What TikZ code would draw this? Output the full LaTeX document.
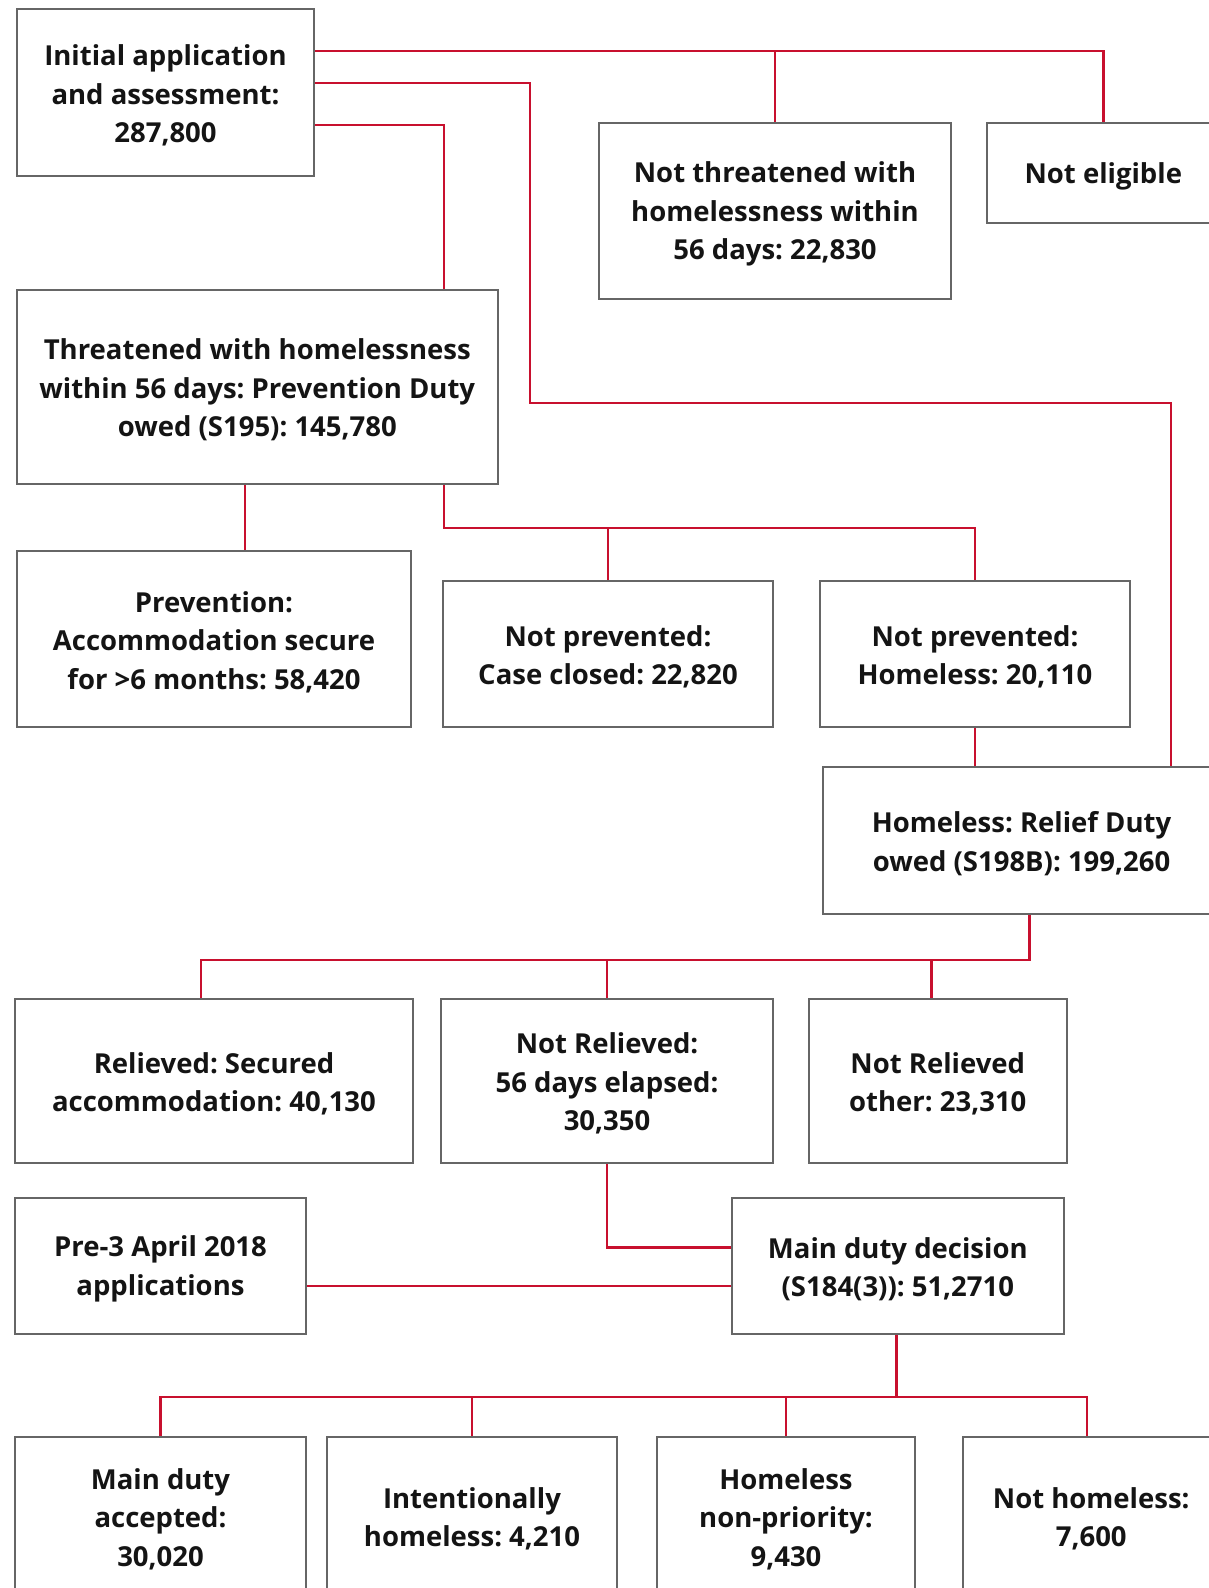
\documentclass[tikz,border=0pt]{standalone}
\usepackage{fontspec}
\setmainfont{Open Sans}
\definecolor{linkred}{HTML}{C8102E}
\definecolor{boxgray}{HTML}{666666}
\tikzset{
  box/.style={draw=boxgray, line width=2pt, fill=white, inner sep=0pt},
  lbl/.style={align=center, inner sep=0pt,
    font=\fontsize{27.5}{38.5}\selectfont\bfseries\frenchspacing, text=black!92},
  link/.style={draw=linkred, line width=2.4pt}
}
\newcommand{\boxat}[6]{%
  \node[box, minimum width={#4-#2}, minimum height={#5-#3}] (#1) at ({(#2+#4)/2},{(#3+#5)/2}) {};
  \node[lbl] (#1-text) at ([yshift=-3pt]#1.center) {#6};}
\begin{document}
\begin{tikzpicture}[x=1pt,y=-1pt]
\useasboundingbox (0,0) rectangle (1208,1588);
\boxat{init}{17}{9}{314}{176}{Initial application\\and assessment:\\287,800}
\boxat{notthr}{599}{123}{951}{299}{Not threatened with\\homelessness within\\56 days: 22,830}
\boxat{notelig}{986.6}{123}{1220}{223}{Not eligible}
\boxat{threat}{17}{290}{497.5}{484}{Threatened with homelessness\\within 56 days: Prevention Duty\\owed (S195): 145,780}
\boxat{prev}{17}{551}{411}{727}{Prevention:\\Accommodation secure\\for >6 months: 58,420}
\boxat{closed}{443}{581}{773}{727}{Not prevented:\\Case closed: 22,820}
\boxat{homeless}{820}{581}{1130}{727}{Not prevented:\\Homeless: 20,110}
\boxat{relief}{823}{767}{1220}{914}{Homeless: Relief Duty\\owed (S198B): 199,260}
\boxat{relieved}{15}{998.6}{413}{1163}{Relieved: Secured\\accommodation: 40,130}
\boxat{notrel}{441}{998.6}{773}{1163}{Not Relieved:\\56 days elapsed:\\30,350}
\boxat{other}{808.6}{998.6}{1067}{1163}{Not Relieved\\other: 23,310}
\boxat{pre}{15}{1198}{306}{1334}{Pre-3 April 2018\\applications}
\boxat{main}{732}{1198}{1063.6}{1334}{Main duty decision\\(S184(3)): 51,2710}
\boxat{acc}{15}{1437}{306}{1595}{Main duty\\accepted:\\30,020}
\boxat{intent}{327}{1437}{617}{1595}{Intentionally\\homeless: 4,210}
\boxat{nonprio}{657}{1437}{915}{1595}{Homeless\\non-priority:\\9,430}
\boxat{nothome}{962.5}{1437}{1220}{1595}{Not homeless:\\7,600}
% connectors
\draw[link] (init.east |- 0,51) -- (notelig.north |- 0,51) -- (notelig.north);
\draw[link] (notthr.north |- 0,51) -- (notthr.north);
\draw[link] (init.east |- 0,83) -- (530,83) -- (530,403) -- (1171,403) -- (1171,0 |- relief.north);
\draw[link] (init.east |- 0,125) -- (444,125) -- (444,0 |- threat.north);
\draw[link] (245,0 |- threat.south) -- (245,0 |- prev.north);
\draw[link] (444,0 |- threat.south) -- (444,528) -- (homeless.north |- 0,528) -- (homeless.north);
\draw[link] (closed.north |- 0,528) -- (closed.north);
\draw[link] (homeless.south) -- (homeless.south |- relief.north);
\draw[link] (1029.6,0 |- relief.south) -- (1029.6,960) -- (201,960) -- (201,0 |- relieved.north);
\draw[link] (notrel.north |- 0,960) -- (notrel.north);
\draw[link] (931.5,960) -- (931.5,0 |- other.north);
\draw[link] (notrel.south) -- (notrel.south |- 0,1247.5) -- (main.west |- 0,1247.5);
\draw[link] (pre.east |- 0,1286) -- (main.west |- 0,1286);
\draw[link] (896.6,0 |- main.south) -- (896.6,1397) -- (1087,1397) -- (1087,0 |- nothome.north);
\draw[link] (896.6,1397) -- (acc.north |- 0,1397) -- (acc.north);
\draw[link] (intent.north |- 0,1397) -- (intent.north);
\draw[link] (nonprio.north |- 0,1397) -- (nonprio.north);
\end{tikzpicture}
\end{document}
